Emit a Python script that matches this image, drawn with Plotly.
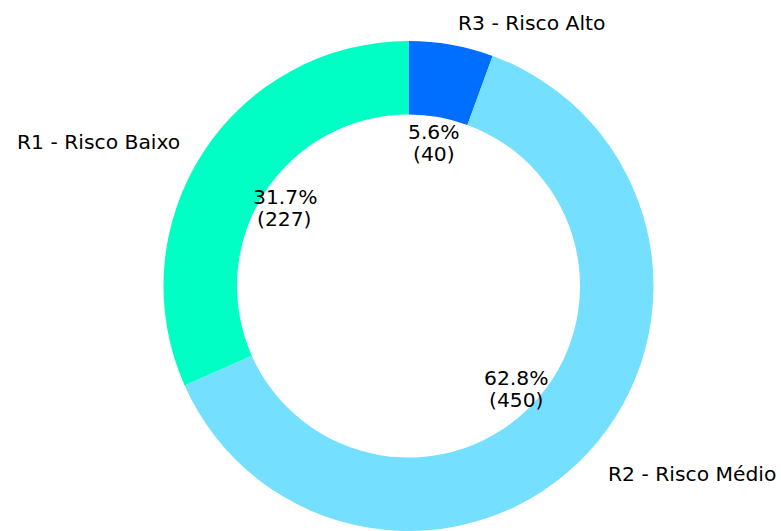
import math
import plotly.graph_objects as go

labels = ["R1 - Risco Baixo", "R2 - Risco Médio", "R3 - Risco Alto"]
values = [227, 450, 40]
colors = ["#00FFC5", "#74DFFF", "#006EFF"]

W, H = 781, 531
# pie geometry (pixels)
CX, CY, R = 408.5, 288, 245
HOLE = 0.70
FONT = dict(family="DejaVu Sans", size=20.3, color="#000000")

# slices run counterclockwise from 12 o'clock in the reference;
# draw them clockwise in reverse order from 12 o'clock (same result)
fig = go.Figure()
fig.add_trace(go.Pie(
    labels=labels[::-1], values=values[::-1], sort=False,
    direction="clockwise", rotation=0,
    hole=HOLE, marker=dict(colors=colors[::-1], line=dict(width=0)),
    textinfo="none", hoverinfo="label+value+percent", showlegend=False,
    domain=dict(x=[(CX - R) / W, (CX + R) / W], y=[0, (2 * R) / H]),
))

# annotation geometry from data (labels at 1.1R, pct at 0.6R)
TCY = 289
TR = 246
total = sum(values)
start = 90.0
annotations = []
for lab, v in zip(labels, values):
    frac = v / total
    sweep = 360.0 * frac
    mid = math.radians(start + sweep / 2)
    start += sweep
    lx = CX + 1.1 * TR * math.cos(mid)
    ly = TCY - 1.1 * TR * math.sin(mid)
    annotations.append(dict(
        x=lx / W, y=1 - ly / H, xref="paper", yref="paper",
        text=lab, showarrow=False, font=FONT,
        xanchor="right" if math.cos(mid) < 0 else "left", yanchor="middle",
    ))
    px = CX + 0.6 * TR * math.cos(mid)
    py = TCY - 0.6 * TR * math.sin(mid)
    for txt, shift in ((f"{frac * 100:.1f}%", 11.5), (f"({v})", -10.5)):
        annotations.append(dict(
            x=px / W, y=1 - py / H, xref="paper", yref="paper",
            text=txt, showarrow=False, font=FONT, yshift=shift,
            xanchor="center", yanchor="middle",
        ))

fig.update_layout(
    width=W, height=H,
    margin=dict(l=0, r=0, t=0, b=0),
    paper_bgcolor="white", plot_bgcolor="white",
    annotations=annotations,
)
fig.write_html("out.html")
